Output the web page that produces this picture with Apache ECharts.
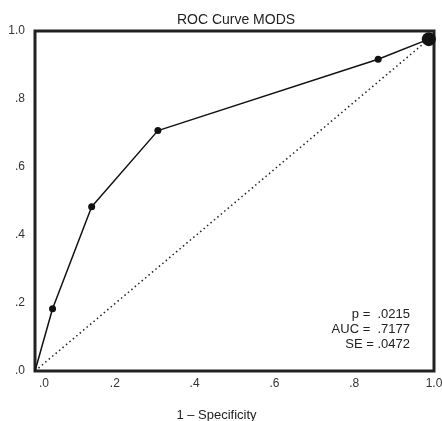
<!DOCTYPE html>
<html><head><meta charset="utf-8">
<script src="https://cdn.jsdelivr.net/npm/echarts@6/dist/echarts.min.js"></script>
<style>html,body{margin:0;padding:0;background:#fff}#c{width:442px;height:421px}</style>
</head><body><div id="c"></div>
<script>
const rocX = [0, 0.044, 0.142, 0.308, 0.860, 0.987];
const rocY = [0, 0.183, 0.483, 0.707, 0.917, 0.976];
const refX = [0, 0.987];
const refY = [0, 0.976];
const tickValues = [0, 0.2, 0.4, 0.6, 0.8, 1.0];
const tickLabels = ['.0', '.2', '.4', '.6', '.8', '1.0'];
const statLines = ['p =  .0215', 'AUC =  .7177', 'SE = .0472'];

function lab(v) {
  const i = tickValues.findIndex(t => Math.abs(t - v) < 1e-6);
  return i >= 0 ? tickLabels[i] : '';
}
const FONT = 'Liberation Sans';
const chart = echarts.init(document.getElementById('c'));
chart.setOption({
  animation: false,
  title: {
    text: 'ROC Curve MODS', left: 231, top: 8, textAlign: 'center',
    textStyle: { fontFamily: FONT, fontSize: 14, fontWeight: 'normal', color: '#222' }
  },
  grid: { left: 35, right: 8, top: 31, bottom: 50, show: true, borderWidth: 3, borderColor: '#222',
    backgroundColor: 'transparent', outerBoundsMode: 'none', containLabel: false },
  xAxis: {
    type: 'value', min: 0, max: 1, interval: 0.2,
    axisLine: { show: false }, axisTick: { show: false }, splitLine: { show: false },
    axisLabel: {
      margin: 7, color: '#333', fontFamily: FONT, fontSize: 12,
      formatter: v => v === 0 ? '{a|' + lab(v) + '}' : lab(v),
      rich: { a: { padding: [0, 0, 0, 18], fontFamily: FONT, fontSize: 12, color: '#333' } }
    },
    name: '1 \u2013 Specificity', nameLocation: 'middle', nameGap: 38,
    nameTextStyle: { fontFamily: FONT, fontSize: 13, color: '#222', padding: [0, 36, 0, 0] }
  },
  yAxis: {
    type: 'value', min: 0, max: 1, interval: 0.2,
    axisLine: { show: false }, axisTick: { show: false }, splitLine: { show: false },
    axisLabel: { margin: 10, color: '#333', fontFamily: FONT, fontSize: 12, formatter: v => lab(v),
      verticalAlign: 'middle', padding: [0, 0, 7, 0] }
  },
  graphic: statLines.map((t, i) => ({
    type: 'text', right: 32, top: 308 + i * 15,
    style: { text: t, fill: '#222', font: '13px ' + FONT, align: 'right' }
  })),
  series: [
    {
      type: 'line', data: refX.map((x, i) => [x, refY[i]]), symbol: 'none',
      lineStyle: { color: '#222', width: 1.5, type: [1.5, 3] }, z: 1
    },
    {
      type: 'line', data: rocX.map((x, i) => [x, rocY[i]]),
      symbol: 'circle',
      symbolSize: (v, p) => p.dataIndex === rocX.length - 1 ? 14 : (p.dataIndex === 0 ? 0 : 7),
      itemStyle: { color: '#111' },
      lineStyle: { color: '#111', width: 1.5 }, z: 2
    }
  ]
});
</script></body></html>
